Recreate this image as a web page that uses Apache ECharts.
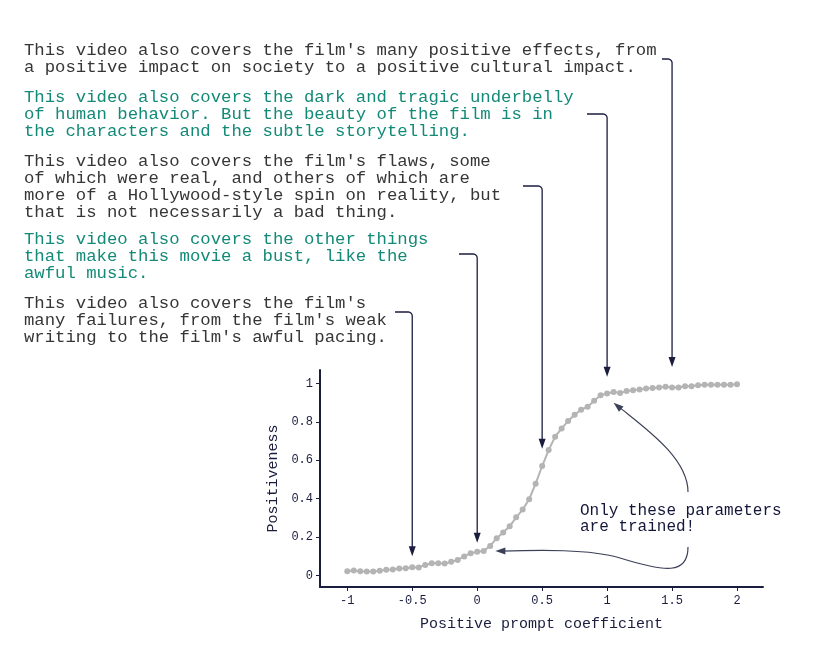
<!DOCTYPE html>
<html>
<head>
<meta charset="utf-8">
<script src="https://cdn.jsdelivr.net/npm/echarts@6/dist/echarts.min.js"></script>
<style>
	html, body { margin: 0; padding: 0; background: #fff; }
	#chart { width: 831px; height: 657px; }
</style>
</head>
<body>
<div id="chart"></div>
<script>
// data
var coefficients = [-1, -0.95, -0.9, -0.85, -0.8, -0.75, -0.7, -0.65, -0.6, -0.55,
	-0.5, -0.45, -0.4, -0.35, -0.3, -0.25, -0.2, -0.15, -0.1, -0.05,
	0, 0.05, 0.1, 0.15, 0.2, 0.25, 0.3, 0.35, 0.4, 0.45,
	0.5, 0.55, 0.6, 0.65, 0.7, 0.75, 0.8, 0.85, 0.9, 0.95,
	1, 1.05, 1.1, 1.15, 1.2, 1.25, 1.3, 1.35, 1.4, 1.45,
	1.5, 1.55, 1.6, 1.65, 1.7, 1.75, 1.8, 1.85, 1.9, 1.95, 2];
var positiveness = [0.022, 0.026, 0.022, 0.021, 0.021, 0.024, 0.030, 0.031, 0.036, 0.038,
	0.043, 0.042, 0.055, 0.064, 0.064, 0.062, 0.071, 0.081, 0.099, 0.116,
	0.123, 0.127, 0.154, 0.194, 0.224, 0.256, 0.303, 0.343, 0.397, 0.478,
	0.570, 0.653, 0.723, 0.766, 0.804, 0.837, 0.863, 0.879, 0.910, 0.939,
	0.948, 0.955, 0.950, 0.960, 0.965, 0.969, 0.974, 0.976, 0.979, 0.983,
	0.979, 0.979, 0.986, 0.986, 0.991, 0.993, 0.993, 0.993, 0.993, 0.993, 0.996];
var xTicks = [-1, -0.5, 0, 0.5, 1, 1.5, 2];
var yTicks = [0, 0.2, 0.4, 0.6, 0.8, 1];

var captions = [
	"This video also covers the film's many positive effects, from\na positive impact on society to a positive cultural impact.",
	"This video also covers the dark and tragic underbelly\nof human behavior. But the beauty of the film is in\nthe characters and the subtle storytelling.",
	"This video also covers the film's flaws, some\nof which were real, and others of which are\nmore of a Hollywood-style spin on reality, but\nthat is not necessarily a bad thing.",
	"This video also covers the other things\nthat make this movie a bust, like the\nawful music.",
	"This video also covers the film's\nmany failures, from the film's weak\nwriting to the film's awful pacing."
];
var captionCoefficient = [1.5, 1, 0.5, 0, -0.5];
var arrowTipValue = [1.085, 1.035, 0.66, 0.17, 0.10];
var trainedNote = "Only these parameters\nare trained!";

var NAVY = "#1b1d3f";
var GREY_TEXT = "#363636";
var TEAL = "#138a77";
var DOT = "#b4b4b4";
var CURVE = "#3c4058";
var FONT = "'Liberation Mono', 'DejaVu Sans Mono', monospace";

var chart = echarts.init(document.getElementById("chart"), null, { renderer: "canvas" });

var points = [];
for (var i = 0; i < coefficients.length; i++) {
	points.push([coefficients[i], positiveness[i]]);
}

chart.setOption({
	animation: false,
	grid: { left: 320, right: 68, top: 370, bottom: 70 },
	xAxis: {
		type: "value",
		min: -1.21,
		max: 2.2,
		splitLine: { show: false },
		axisLine: { show: true, onZero: false, lineStyle: { color: NAVY, width: 2 } },
		axisTick: { show: true, length: 4, customValues: xTicks, lineStyle: { color: NAVY } },
		axisLabel: { customValues: xTicks, margin: 8, color: NAVY, fontFamily: FONT, fontSize: 12 },
		name: "Positive prompt coefficient",
		nameLocation: "middle",
		nameGap: 30,
		nameTextStyle: { color: NAVY, fontFamily: FONT, fontSize: 15 }
	},
	yAxis: {
		type: "value",
		min: -0.06,
		max: 1.07,
		splitLine: { show: false },
		axisLine: { show: true, onZero: false, lineStyle: { color: NAVY, width: 2 } },
		axisTick: { show: true, length: 4, customValues: yTicks, lineStyle: { color: NAVY } },
		axisLabel: { customValues: yTicks, margin: 7, color: NAVY, fontFamily: FONT, fontSize: 12 },
		name: "Positiveness",
		nameLocation: "middle",
		nameGap: 38,
		nameTextStyle: { color: NAVY, fontFamily: FONT, fontSize: 15 }
	},
	series: [{
		type: "line",
		data: points,
		symbol: "circle",
		symbolSize: 6,
		showAllSymbol: true,
		itemStyle: { color: DOT },
		lineStyle: { color: DOT, width: 2 },
		z: 2
	}]
});

// annotations
function arrowHead(tip, from, color, len, half) {
	var dx = tip[0] - from[0], dy = tip[1] - from[1];
	var d = Math.sqrt(dx * dx + dy * dy);
	var ux = dx / d, uy = dy / d;
	var bx = tip[0] - ux * len, by = tip[1] - uy * len;
	return {
		type: "polygon",
		shape: { points: [tip, [bx - uy * half, by + ux * half], [bx + uy * half, by - ux * half]] },
		style: { fill: color },
		z: 10
	};
}

function curve(x1, y1, cpx1, cpy1, cpx2, cpy2, x2, y2) {
	return {
		type: "bezierCurve",
		shape: { x1: x1, y1: y1, cpx1: cpx1, cpy1: cpy1, cpx2: cpx2, cpy2: cpy2, x2: x2, y2: y2 },
		style: { stroke: CURVE, lineWidth: 1.2, fill: null },
		z: 10
	};
}

var graphics = [];
var blockTop = [41.5, 88.5, 152.5, 230.5, 294.5];
var elbowStart = [662, 587, 523, 459, 395];
var elbowY = [59, 114, 186, 254, 312];

for (var i = 0; i < captions.length; i++) {
	graphics.push({
		type: "text",
		x: 24,
		y: blockTop[i],
		style: {
			text: captions[i],
			fill: i % 2 == 0 ? GREY_TEXT : TEAL,
			fontFamily: FONT,
			fontSize: 17.3,
			lineHeight: 17,
			verticalAlign: "top"
		},
		z: 10
	});
	var tip = chart.convertToPixel({ gridIndex: 0 }, [captionCoefficient[i], arrowTipValue[i]]);
	var vx = tip[0], r = 4;
	var pts = [[elbowStart[i], elbowY[i]]];
	// rounded corner
	for (var k = 0; k <= 6; k++) {
		var a = -Math.PI / 2 + (Math.PI / 2) * k / 6;
		pts.push([vx - r + r * Math.cos(a), elbowY[i] + r + r * Math.sin(a)]);
	}
	pts.push([vx, tip[1] - 8]);
	graphics.push({
		type: "polyline",
		shape: { points: pts },
		style: { stroke: NAVY, lineWidth: 1.3, fill: null },
		z: 10
	});
	graphics.push(arrowHead(tip, [vx, tip[1] - 20], NAVY, 10, 3.5));
}

graphics.push({
	type: "text",
	x: 580,
	y: 503,
	style: {
		text: trainedNote,
		fill: "#14163a",
		fontFamily: FONT,
		fontSize: 16,
		lineHeight: 16,
		verticalAlign: "top"
	},
	z: 10
});

var upTip = chart.convertToPixel({ gridIndex: 0 }, [1.05, 0.9]);
var leftTip = chart.convertToPixel({ gridIndex: 0 }, [0.14, 0.127]);
graphics.push(curve(688, 492, 688, 458, 645, 428, upTip[0] + 5, upTip[1] + 4));
graphics.push(arrowHead(upTip, [640, 425], CURVE, 10, 3.5));
graphics.push(curve(688, 547, 688, 575, 665, 572, 620, 558));
graphics.push(curve(620, 558, 590, 549, 540, 550, leftTip[0] + 6, leftTip[1]));
graphics.push(arrowHead(leftTip, [540, leftTip[1]], CURVE, 10, 3.5));

chart.setOption({ graphic: graphics });
</script>
</body>
</html>
